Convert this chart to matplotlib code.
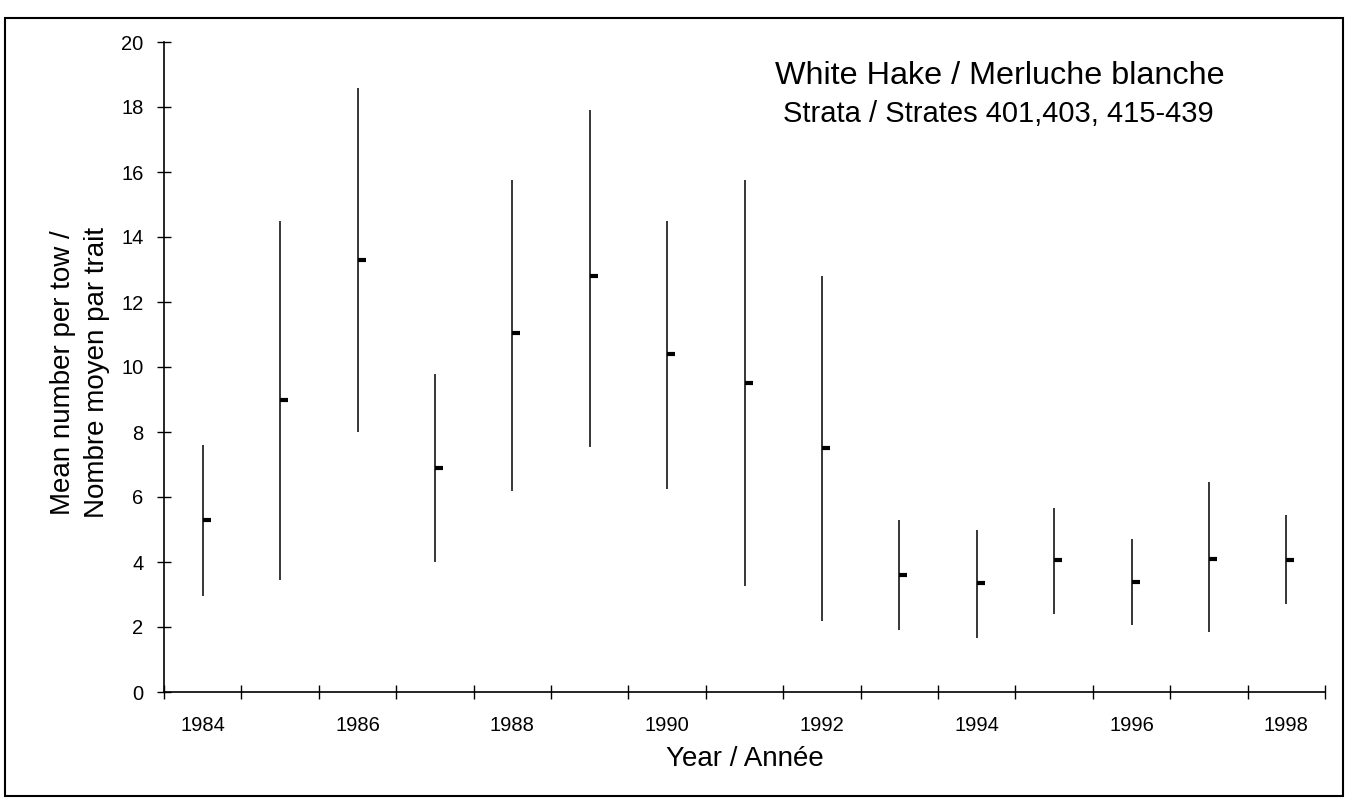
import numpy as np
import matplotlib
matplotlib.use("Agg")
import matplotlib.pyplot as plt
from matplotlib.patches import Rectangle

plt.rcParams['font.family'] = ['Liberation Sans', 'DejaVu Sans']

# Survey index, white hake, strata 401, 403, 415-439
years = [1984, 1985, 1986, 1987, 1988, 1989, 1990, 1991,
         1992, 1993, 1994, 1995, 1996, 1997, 1998]
upper = [7.6, 14.5, 18.6, 9.8, 15.75, 17.9, 14.5, 15.75,
         12.8, 5.3, 5.0, 5.65, 4.7, 6.45, 5.45]
lower = [2.95, 3.45, 8.0, 4.0, 6.2, 7.55, 6.25, 3.25,
         2.2, 1.9, 1.65, 2.4, 2.05, 1.85, 2.7]
mean = [5.3, 9.0, 13.3, 6.9, 11.05, 12.8, 10.4, 9.5,
        7.5, 3.6, 3.35, 4.05, 3.4, 4.1, 4.05]
label_years = [1984, 1986, 1988, 1990, 1992, 1994, 1996, 1998]
yticks = list(range(0, 21, 2))

W, H = 1345, 799
fig = plt.figure(figsize=(W / 100, H / 100), dpi=100)

# axes box in pixels: left 164, right 1325, y=0 at 692, y=20 at 42
ax = fig.add_axes([164 / W, (H - 692) / H, (1325 - 164) / W, 650 / H])

# high-low lines with the mean as a right tick (stock chart style)
ax.vlines(years, lower, upper, color='black', lw=1.1)
ax.plot(years, mean, linestyle='none', marker=1, ms=6, mew=3, color='black')

ax.set_xlim(years[0] - 0.5, years[-1] + 0.5)
ax.set_ylim(0, 20)

for side in ('top', 'right'):
    ax.spines[side].set_visible(False)
for side in ('left', 'bottom'):
    ax.spines[side].set_linewidth(1.2)

# ticks between categories, labels at category centres
ax.set_xticks(np.arange(years[0] - 0.5, years[-1] + 1, 1.0))
ax.set_xticklabels([])
ax.set_xticks(label_years, minor=True)
ax.set_xticklabels([str(y) for y in label_years], minor=True)
ax.tick_params(axis='x', which='major', direction='inout', length=10, width=1)
ax.tick_params(axis='x', which='minor', length=0, pad=17, labelsize=14.5)

ax.set_yticks(yticks)
ax.set_yticklabels([str(v) for v in yticks])
ax.tick_params(axis='y', direction='inout', length=9.5, width=1, pad=10, labelsize=14.5)

ax.set_xlabel('Year / Année', fontsize=20, labelpad=8)
ax.set_ylabel('Mean number per tow /\nNombre moyen par trait', fontsize=20,
              linespacing=1.4, va='center')
ax.yaxis.set_label_coords(-0.072, 0.492)

ax.text(0.720, 0.948, 'White Hake / Merluche blanche', transform=ax.transAxes,
        ha='center', va='center', fontsize=23.3)
ax.text(0.719, 0.890, 'Strata / Strates 401,403, 415-439', transform=ax.transAxes,
        ha='center', va='center', fontsize=21)

# outer frame of the figure
fig.patches.append(Rectangle((5 / W, 3 / H), 1338 / W, 778 / H, transform=fig.transFigure,
                             fill=False, edgecolor='black', lw=1.5))

fig.savefig('out.png', dpi=100)
